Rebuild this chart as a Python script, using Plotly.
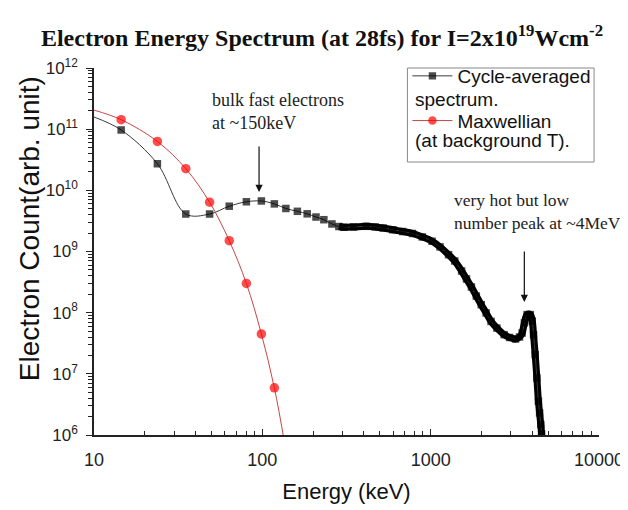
import plotly.graph_objects as go

# ---------------- data ----------------
cycle_E = [10, 14.5, 23.8, 35.1, 48.6, 63.6, 80.4, 98.7, 117.9, 138, 161.5, 184.7,
           208.4, 232, 259, 285, 305, 348, 415, 468, 522, 596, 682, 780, 892,
           1020, 1136, 1277, 1390, 1527, 1632, 1746, 1867, 1997, 2135, 2284,
           2475, 2731, 2947, 3194, 3370, 3494, 3605, 3738, 3907, 4013, 4084,
           4178, 4274, 4367, 4438, 4510, 4559, 4580]
cycle_N = [1.58e11, 9.7e10, 2.72e10, 4.1e9, 4.1e9, 5.5e9, 6.5e9, 6.7e9, 6.0e9,
           5.05e9, 4.54e9, 4.13e9, 3.66e9, 3.31e9, 2.82e9, 2.56e9, 2.49e9,
           2.52e9, 2.58e9, 2.52e9, 2.42e9, 2.27e9, 2.12e9, 1.97e9, 1.73e9,
           1.47e9, 1.19e9, 8.87e8, 7.0e8, 4.8e8, 3.56e8, 2.63e8, 1.87e8,
           1.35e8, 9.9e7, 7.2e7, 5.6e7, 4.37e7, 3.93e7, 3.71e7, 4.0e7, 4.65e7,
           6.8e7, 9.3e7, 9.3e7, 7.3e7, 4.37e7, 2.06e7, 8.55e6, 3.56e6, 2.29e6,
           1.48e6, 1.04e6, 7.5e5]

maxw_E = [10, 14.5, 23.8, 35.1, 48.6, 63.6, 80.4, 98.7, 117.9, 136]
maxw_N = [2.05e11, 1.43e11, 6.3e10, 2.26e10, 6.4e9, 1.5e9, 3.0e8, 4.5e7, 5.9e6, 7.0e5]

x_tick_vals = [10, 100, 1000, 10000]
x_tick_text = ["10", "100", "1000", "10000"]
y_exponents = [6, 7, 8, 9, 10, 11, 12]

series_names = ["Cycle-averaged", "Maxwellian"]
series_second_lines = ["spectrum.", "(at background T)."]

title_text = "<b>Electron Energy Spectrum (at 28fs) for I=2x10<sup>19</sup>Wcm<sup>-2</sup></b>"
x_title = "Energy (keV)"
y_title = "Electron Count(arb. unit)"
note_bulk = "bulk fast electrons<br>at ~150keV"
note_hot = "very hot but low<br>number peak at ~4MeV"

# ---------------- figure ----------------
W, H = 628, 510
ML, MR, MT, MB = 86, 28, 60, 83
PW, PH = W - ML - MR, H - MT - MB


def px_x(p):
    return (p - ML) / PW


def px_y(p):
    return 1 - (p - MT) / PH


fig = go.Figure()

# dense part of the spectrum drawn as a thick band (overlapping markers)
dense_start = cycle_E.index(285)
fig.add_trace(go.Scatter(
    x=cycle_E[dense_start:], y=cycle_N[dense_start:], mode="lines",
    line=dict(color="black", width=7, shape="spline"),
    showlegend=False, hoverinfo="skip"))

black_sizes = [0] + [7.5] * (len(cycle_E) - 1)
fig.add_trace(go.Scatter(
    x=cycle_E, y=cycle_N, mode="lines+markers", name=series_names[0],
    legendgroup="a",
    line=dict(color="#3a3a3a", width=1, shape="spline"),
    marker=dict(symbol="square", size=black_sizes, color="black", line=dict(width=0))))

red_sizes = [0] + [9.5] * (len(maxw_E) - 1)
fig.add_trace(go.Scatter(
    x=maxw_E, y=maxw_N, mode="lines+markers", name=series_names[1],
    legendgroup="b",
    line=dict(color="#c84646", width=1, shape="spline"),
    marker=dict(symbol="circle", size=red_sizes, color="#ff0000", line=dict(width=0))))

minor_x = [k * 10 ** p for p in range(1, 4) for k in range(2, 10)]
minor_y = [k * 10 ** p for p in range(6, 12) for k in range(2, 10)]

fig.update_xaxes(
    type="log", range=[1, 4], showline=True, linecolor="#222", linewidth=1.5,
    ticks="inside", ticklen=6, tickwidth=1.2, tickcolor="#222",
    tickmode="array", tickvals=x_tick_vals, ticktext=x_tick_text,
    tickfont=dict(family="Liberation Sans", size=18, color="#222"),
    ticklabelstandoff=8,
    minor=dict(tickmode="array", tickvals=minor_x, ticks="inside", ticklen=4,
               tickwidth=1, tickcolor="#222", showgrid=False),
    showgrid=False, zeroline=False, mirror=False,
    title=dict(text=x_title, font=dict(family="Liberation Sans", size=22, color="#111"),
               standoff=14))

fig.update_yaxes(
    type="log", range=[6, 12], showline=True, linecolor="#222", linewidth=1.5,
    ticks="outside", ticklen=6, tickwidth=1.2, tickcolor="#222",
    tickmode="array", tickvals=[10 ** e for e in y_exponents],
    ticktext=["10<sup>%d</sup>" % e for e in y_exponents],
    tickfont=dict(family="Liberation Sans", size=17, color="#222"),
    ticklabelstandoff=5,
    minor=dict(tickmode="array", tickvals=minor_y, ticks="outside", ticklen=4,
               tickwidth=1, tickcolor="#222", showgrid=False),
    showgrid=False, zeroline=False)

annotations = [
    # y-axis title (placed like the reference, slightly above the plot centre)
    dict(text=y_title, xref="paper", yref="paper", x=px_x(21), y=px_y(221),
         xanchor="center", yanchor="middle", textangle=-90, showarrow=False,
         font=dict(family="Liberation Sans", size=28, color="#111")),
    dict(text=note_bulk, xref="paper", yref="paper", x=px_x(204), y=px_y(80),
         xanchor="left", yanchor="top", align="left", showarrow=False,
         font=dict(family="Liberation Serif", size=18, color="#222")),
    dict(text=note_hot, xref="paper", yref="paper", x=px_x(450), y=px_y(180),
         xanchor="left", yanchor="top", align="left", showarrow=False,
         font=dict(family="Liberation Serif", size=17.5, color="#222")),
    # arrows
    dict(text="", xref="paper", yref="paper", x=px_x(254), y=px_y(184),
         ax=0, ay=-47, showarrow=True, arrowhead=2, arrowsize=1.2, arrowwidth=1.2,
         arrowcolor="#111"),
    dict(text="", xref="paper", yref="paper", x=px_x(524), y=px_y(294),
         ax=0, ay=-52, showarrow=True, arrowhead=2, arrowsize=1.2, arrowwidth=1.2,
         arrowcolor="#111"),
    # legend second lines
    dict(text=series_second_lines[0], xref="paper", yref="paper", x=px_x(411), y=px_y(91),
         xanchor="left", yanchor="middle", showarrow=False,
         font=dict(family="Liberation Sans", size=19, color="#111")),
    dict(text=series_second_lines[1], xref="paper", yref="paper", x=px_x(411), y=px_y(132),
         xanchor="left", yanchor="middle", showarrow=False,
         font=dict(family="Liberation Sans", size=19, color="#111")),
]

shapes = [dict(type="rect", xref="paper", yref="paper",
               x0=px_x(405), x1=px_x(595), y0=px_y(154), y1=px_y(60),
               line=dict(color="#888", width=1), fillcolor="rgba(0,0,0,0)")]

fig.update_layout(
    width=W, height=H, margin=dict(l=ML, r=MR, t=MT, b=MB),
    paper_bgcolor="white", plot_bgcolor="white",
    title=dict(text=title_text, x=0.5, xanchor="center", y=1 - 30 / H, yanchor="middle",
               font=dict(family="Liberation Serif", size=24, color="#111")),
    legend=dict(x=px_x(405), y=px_y(49), xanchor="left", yanchor="top",
                bgcolor="rgba(0,0,0,0)", borderwidth=0, tracegroupgap=17,
                itemwidth=40,
                font=dict(family="Liberation Sans", size=19, color="#111")),
    annotations=annotations, shapes=shapes,
)

fig.write_html("out.html")
